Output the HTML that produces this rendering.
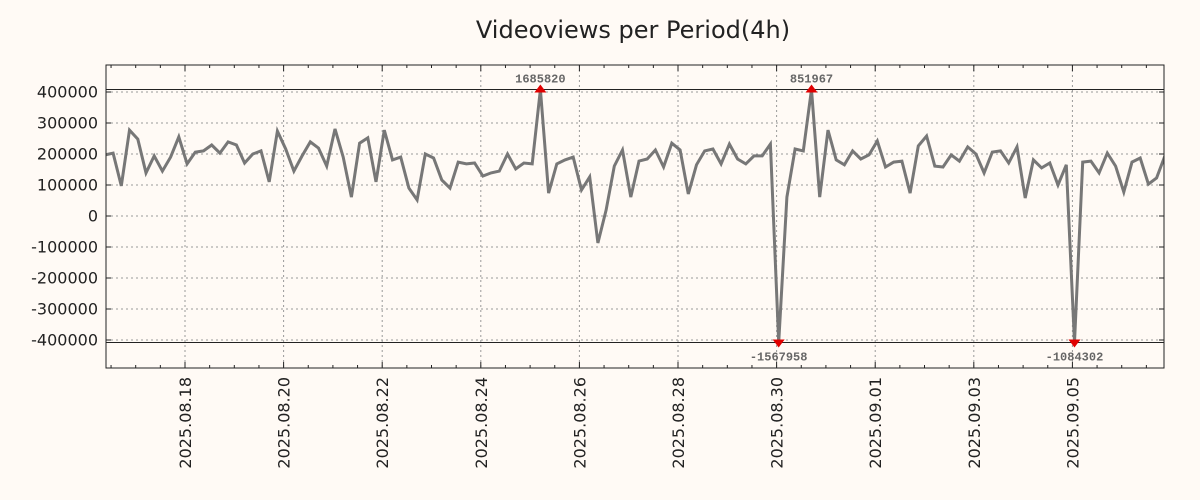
<!DOCTYPE html>
<html><head><meta charset="utf-8">
<style>
html,body{margin:0;padding:0;background:#fffaf5;}
svg{display:block;font-family:"DejaVu Sans","Liberation Sans",sans-serif;}
</style></head>
<body>
<svg id="chart" width="1200" height="500" viewBox="0 0 1200 500">
<rect x="0" y="0" width="1200" height="500" fill="#fffaf5"/>
<text x="633" y="38" text-anchor="middle" font-size="24" fill="#222">Videoviews per Period(4h)</text>
<g id="grid"></g>
<g id="ticks"></g>
<g id="series"></g>
<rect x="106" y="65" width="1058" height="303" fill="none" stroke="#222" stroke-width="1"/>
</svg>
<script>
const values = [197000,203000,97000,277000,248000,139000,194000,145000,190000,255000,168000,206000,210000,229000,203000,239000,229000,171000,200000,210000,
110000,274000,216000,145000,194000,239000,219000,161000,281000,190000,61000,235000,252000,110000,277000,181000,190000,
90000,52000,200000,187000,116000,90000,174000,168000,171000,129000,139000,145000,200000,152000,171000,168000,
1685820,74000,168000,181000,190000,84000,126000,-87000,19000,161000,213000,61000,177000,184000,213000,158000,235000,213000,71000,165000,210000,216000,168000,232000,184000,168000,194000,194000,232000,
-1567958,61000,216000,210000,851967,
61000,277000,181000,165000,210000,184000,197000,242000,158000,174000,177000,74000,226000,258000,161000,158000,197000,177000,223000,200000,139000,206000,210000,171000,223000,58000,181000,155000,171000,100000,165000,
-1084302,174000,177000,139000,203000,161000,77000,174000,187000,103000,123000,194000];
const startHour = 9;      // 2025-08-16 09:00
const stepHours = 4;
const yTicks = [400000,300000,200000,100000,0,-100000,-200000,-300000,-400000];
const xTickLabels = ["2025.08.18","2025.08.20","2025.08.22","2025.08.24","2025.08.26","2025.08.28","2025.08.30","2025.09.01","2025.09.03","2025.09.05"];
const xTickHours = [48,96,144,192,240,288,336,384,432,480];
const clipHigh = 408000, clipLow = -408000;

const NS="http://www.w3.org/2000/svg";
const L=106,R=1164,T=65,B=368;
function X(h){return 185+(h-48)*2.0542;}
function Y(v){return 216-v*124/400000;}
function mk(tag,attrs,parent){const e=document.createElementNS(NS,tag);for(const k in attrs)e.setAttribute(k,attrs[k]);parent.appendChild(e);return e;}
const grid=document.getElementById('grid'),ticks=document.getElementById('ticks'),series=document.getElementById('series');

yTicks.forEach(v=>{
  const y=Y(v);
  const g=mk('line',{x1:L,x2:R,y1:y,y2:y,stroke:'#999','stroke-dasharray':'2,3','stroke-width':1},grid);
  
  
  mk('line',{x1:L,x2:L+5,y1:y,y2:y,stroke:'#222'},ticks);
  mk('line',{x1:R-5,x2:R,y1:y,y2:y,stroke:'#222'},ticks);
  const t=mk('text',{x:98,y:y+5.5,'text-anchor':'end','font-size':16,fill:'#222'},ticks);
  t.textContent=String(v);
  
  
});
xTickHours.forEach((h,i)=>{
  const x=X(h);
  const g=mk('line',{x1:x,x2:x,y1:T,y2:B,stroke:'#999','stroke-dasharray':'2,3','stroke-width':1},grid);
  
  
  mk('line',{x1:x,x2:x,y1:B-6,y2:B,stroke:'#222'},ticks);
  mk('line',{x1:x,x2:x,y1:T,y2:T+6,stroke:'#222'},ticks);
  const t=mk('text',{x:0,y:0,'text-anchor':'end','font-size':16,fill:'#222',transform:`translate(${x+6},377) rotate(-90)`},ticks);
  t.textContent=xTickLabels[i];
  
  
});
// minor ticks every 12h
for(let h=0;h<=540;h+=12){const x=X(h);if(x<L+1||x>R-1||h%48===0)continue;
  mk('line',{x1:x,x2:x,y1:B-3,y2:B,stroke:'#222'},ticks);
  mk('line',{x1:x,x2:x,y1:T,y2:T+3,stroke:'#222'},ticks);}
// clip lines
[clipHigh,clipLow].forEach(v=>{const c=mk('line',{x1:L,x2:R,y1:Y(v),y2:Y(v),stroke:'#222','stroke-width':1},grid);
  
  });

const cp=mk('clipPath',{id:'pc'},series);mk('rect',{x:L,y:T,width:R-L,height:B-T},cp);
const pts=values.map((v,i)=>{const vv=Math.max(clipLow,Math.min(clipHigh,v));return X(startHour+i*stepHours).toFixed(1)+','+Y(vv).toFixed(1);});
const pl=mk('polyline',{points:pts.join(' '),fill:'none',stroke:'#777','stroke-width':3,'stroke-linejoin':'miter','clip-path':'url(#pc)'},series);



values.forEach((v,i)=>{
  if(v<=clipHigh&&v>=clipLow)return;
  const x=X(startHour+i*stepHours);
  const up=v>clipHigh;const y=Y(up?clipHigh:clipLow);
  const tri=mk('polygon',{points:up?`${x-6},${y+3} ${x+6},${y+3} ${x},${y-5}`:`${x-6},${y-3} ${x+6},${y-3} ${x},${y+5}`,fill:'#e00000'},series);
  
  
  const t=mk('text',{x:x,y:up?y-7:y+18,'text-anchor':'middle','font-size':12,'font-weight':'bold','font-family':'"Liberation Mono","DejaVu Sans Mono",monospace',fill:'#666'},series);
  t.textContent=String(v);
  
  
});
</script>
</body></html>
